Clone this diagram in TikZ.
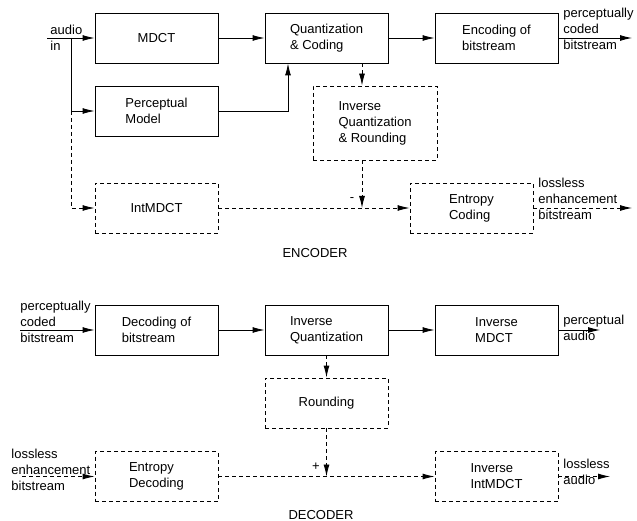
\documentclass[tikz,border=0pt]{standalone}
\usepackage{fontspec}
\setmainfont{Liberation Sans}
\usetikzlibrary{arrows.meta}

\begin{document}
\begin{tikzpicture}[x=1pt,y=1pt,
    font=\fontsize{13}{16}\selectfont,
    line width=0.9pt,
    blk/.style={draw,minimum width=123pt,minimum height=50pt,align=left,inner sep=2pt},
    dblk/.style={blk,dash pattern=on 4pt off 3pt},
    flow/.style={-{Latex[length=12pt,width=6pt]}},
    dflow/.style={flow,dash pattern=on 4pt off 3pt},
    lbl/.style={align=left,inner sep=0pt,anchor=west}]
  \useasboundingbox (0,0) rectangle (637,-521);

  % encoder
  \def\toprow{-38}
  \node[blk] (mdct) at (156.5,\toprow) {MDCT};
  \node[blk] (quant) at (326.5,\toprow) {Quantization\\\& Coding};
  \node[blk] (encb) at (496.5,\toprow) {Encoding of\\bitstream};
  \node[blk] (percep) at (156.5,-111) {Perceptual\\Model};
  \node[dblk,minimum width=124pt,minimum height=74pt] (invqr) at (375,-123) {Inverse\\Quantization\\\& Rounding};
  \node[dblk] (intmdct) at (156.5,-208) {IntMDCT};
  \node[dblk] (entc) at (471.5,-208) {Entropy\\Coding};

  \coordinate (ain) at (47,\toprow);
  \coordinate (split) at (71,\toprow);
  \coordinate (tap) at (362,-208);
  \coordinate (pout) at (632,\toprow);
  \coordinate (lout) at (632,-208);

  \draw[flow] (ain) -- (mdct);
  \draw[flow] (split) |- (percep);
  \draw[dflow] (split |- percep.west) |- (intmdct);
  \draw[flow] (mdct) -- (quant);
  \draw[flow] (percep) -| ([xshift=-38.5pt]quant.south);
  \draw[flow] (quant) -- (encb);
  \draw[flow] (encb) -- (pout);
  \draw[dflow] (quant.south -| tap) -- (invqr.north -| tap);
  \draw[dflow] (invqr.south -| tap) -- (tap);
  \draw[dflow] (intmdct) -- (entc);
  \draw[dflow] (entc) -- (lout);

  \node[lbl] (ainl) at (50,-38) {audio\\in};
  \node[lbl] (poutl) at (563,-29) {perceptually\\coded\\bitstream};
  \node[lbl] (loutl) at (538,-199) {lossless\\enhancement\\bitstream};
  \node (minus) at (352,-200) {-};
  \node (enclbl) at (315,-253) {ENCODER};

  % decoder
  \def\botrow{-330}
  \node[blk] (decb) at (156.5,\botrow) {Decoding of\\bitstream};
  \node[blk] (invq) at (326.5,\botrow) {Inverse\\Quantization};
  \node[blk] (imdct) at (496.5,\botrow) {Inverse\\MDCT};
  \node[dblk] (rnd) at (326.5,-403) {Rounding};
  \node[dblk] (edec) at (156.5,-476.5) {Entropy\\Decoding};
  \node[dblk] (iint) at (496.5,-476.5) {Inverse\\IntMDCT};

  \coordinate (pin) at (20,\botrow);
  \coordinate (lin) at (22,-476.5);
  \coordinate (aout) at (600,\botrow);
  \coordinate (laout) at (610,-476.5);
  \coordinate (sum) at (326.5,-476.5);

  \draw[flow] (pin) -- (decb);
  \draw[flow] (decb) -- (invq);
  \draw[flow] (invq) -- (imdct);
  \draw[flow] (imdct) -- (aout);
  \draw[dflow] (invq) -- (rnd);
  \draw[dflow] (rnd) -- (sum);
  \draw[dflow] (lin) -- (edec);
  \draw[dflow] (edec) -- (iint);
  \draw[dflow] (iint) -- (laout);

  \node[lbl] (pinl) at (20,-322) {perceptually\\coded\\bitstream};
  \node[lbl] (linl) at (11,-470) {lossless\\enhancement\\bitstream};
  \node[lbl] (aoutl) at (563,-328) {perceptual\\audio};
  \node[lbl] (laoutl) at (563,-472) {lossless\\audio};
  \node (plus) at (316,-467) {+};
  \node (declbl) at (321,-515) {DECODER};
\end{tikzpicture}
\end{document}
